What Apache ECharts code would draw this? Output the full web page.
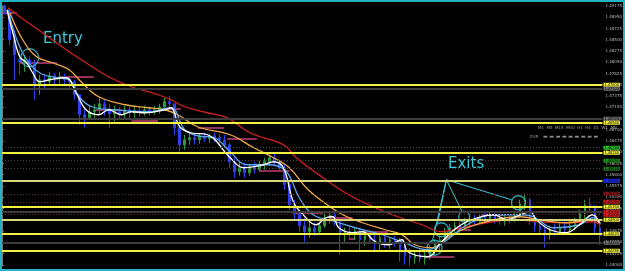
<!DOCTYPE html>
<html><head><meta charset="utf-8">
<script src="https://cdn.jsdelivr.net/npm/echarts@6/dist/echarts.min.js"></script>
<style>html,body{margin:0;padding:0;background:#000;}#c{width:625px;height:271px;}</style>
</head><body><div id="c"></div>
<script>
// ---- price axis ----
const yMin = 1.44, yMax = 1.49175, yStep = 0.00225;

// ---- candles (open, close, low, high) ----
const opens = [1.4918,1.4906,1.4850,1.4810,1.4806,1.4810,1.4802,1.4760,1.4770,1.4766,1.4778,1.4772,1.4776,1.4770,1.4766,1.4740,1.4700,1.4694,1.4706,1.4710,
1.4722,1.4710,1.4702,1.4706,1.4702,1.4710,1.4704,1.4708,1.4706,1.4710,1.4706,1.4710,1.4716,1.4726,1.4722,1.4674,1.4640,1.4650,1.4654,1.4650,
1.4656,1.4652,1.4658,1.4654,1.4650,1.4640,1.4606,1.4586,1.4594,1.4584,1.4594,1.4590,1.4600,1.4606,1.4614,1.4604,1.4594,1.4560,1.4520,1.4502,
1.4478,1.4466,1.4474,1.4466,1.4478,1.4494,1.4500,1.4486,1.4460,1.4466,1.4462,1.4468,1.4450,1.4458,1.4450,1.4442,1.4454,1.4446,1.4450,1.4442,
1.4426,1.4418,1.4414,1.4420,1.4412,1.4418,1.4430,1.4442,1.4450,1.4466,1.4474,1.4478,1.4472,1.4486,1.4490,1.4486,1.4494,1.4490,1.4498,1.4492,
1.4488,1.4494,1.4490,1.4498,1.4522,1.4530,1.4494,1.4478,1.4470,1.4462,1.4470,1.4466,1.4474,1.4470,1.4478,1.4486,1.4502,1.4520,1.4514,1.4474];
const closes = [1.4906,1.4850,1.4820,1.4806,1.4810,1.4802,1.4760,1.4770,1.4766,1.4778,1.4772,1.4776,1.4770,1.4766,1.4740,1.4700,1.4694,1.4706,1.4710,1.4722,
1.4710,1.4702,1.4706,1.4702,1.4710,1.4704,1.4708,1.4706,1.4710,1.4706,1.4710,1.4716,1.4726,1.4722,1.4674,1.4640,1.4650,1.4654,1.4650,1.4656,
1.4652,1.4658,1.4654,1.4650,1.4640,1.4606,1.4586,1.4594,1.4584,1.4594,1.4590,1.4600,1.4606,1.4614,1.4604,1.4594,1.4560,1.4520,1.4502,1.4478,
1.4466,1.4474,1.4466,1.4478,1.4494,1.4500,1.4486,1.4460,1.4466,1.4462,1.4468,1.4450,1.4458,1.4450,1.4442,1.4454,1.4446,1.4450,1.4442,1.4426,
1.4418,1.4414,1.4420,1.4412,1.4418,1.4430,1.4442,1.4450,1.4466,1.4474,1.4478,1.4472,1.4486,1.4490,1.4486,1.4494,1.4490,1.4498,1.4492,1.4488,
1.4494,1.4490,1.4498,1.4522,1.4530,1.4494,1.4478,1.4470,1.4462,1.4470,1.4466,1.4474,1.4470,1.4478,1.4486,1.4502,1.4520,1.4514,1.4474,1.4458];
const lows = [1.4900,1.4840,1.4770,1.4780,1.4786,1.4794,1.4730,1.4740,1.4750,1.4758,1.4760,1.4762,1.4758,1.4754,1.4730,1.4680,1.4674,1.4690,1.4694,1.4700,
1.4698,1.4674,1.4686,1.4690,1.4694,1.4692,1.4694,1.4696,1.4698,1.4698,1.4700,1.4702,1.4710,1.4714,1.4660,1.4626,1.4630,1.4640,1.4640,1.4642,
1.4646,1.4644,1.4646,1.4642,1.4634,1.4594,1.4574,1.4578,1.4574,1.4578,1.4582,1.4586,1.4590,1.4598,1.4598,1.4586,1.4550,1.4510,1.4490,1.4466,
1.4446,1.4454,1.4458,1.4462,1.4474,1.4482,1.4478,1.4420,1.4446,1.4454,1.4450,1.4426,1.4438,1.4442,1.4426,1.4430,1.4434,1.4432,1.4436,1.4406,
1.4400,1.4398,1.4402,1.4404,1.4400,1.4410,1.4420,1.4426,1.4442,1.4454,1.4462,1.4460,1.4470,1.4474,1.4478,1.4482,1.4484,1.4486,1.4482,1.4480,
1.4478,1.4482,1.4486,1.4494,1.4510,1.4480,1.4466,1.4462,1.4434,1.4450,1.4458,1.4462,1.4460,1.4464,1.4470,1.4478,1.4490,1.4506,1.4460,1.4440];
const highs = [1.4920,1.4914,1.4870,1.4830,1.4820,1.4816,1.4810,1.4780,1.4782,1.4786,1.4784,1.4786,1.4782,1.4778,1.4770,1.4740,1.4714,1.4718,1.4722,1.4736,
1.4730,1.4722,1.4718,1.4716,1.4718,1.4716,1.4718,1.4716,1.4718,1.4716,1.4718,1.4722,1.4734,1.4738,1.4722,1.4680,1.4660,1.4666,1.4664,1.4662,
1.4664,1.4662,1.4664,1.4662,1.4660,1.4644,1.4614,1.4606,1.4604,1.4602,1.4606,1.4608,1.4614,1.4620,1.4622,1.4610,1.4600,1.4570,1.4530,1.4510,
1.4494,1.4486,1.4484,1.4486,1.4502,1.4508,1.4504,1.4494,1.4474,1.4476,1.4474,1.4472,1.4466,1.4470,1.4466,1.4462,1.4458,1.4454,1.4458,1.4454,
1.4440,1.4434,1.4430,1.4432,1.4428,1.4440,1.4450,1.4458,1.4474,1.4482,1.4486,1.4486,1.4494,1.4498,1.4500,1.4502,1.4504,1.4506,1.4504,1.4502,
1.4500,1.4502,1.4506,1.4530,1.4542,1.4534,1.4500,1.4490,1.4480,1.4478,1.4482,1.4486,1.4490,1.4488,1.4494,1.4510,1.4530,1.4534,1.4520,1.4490];
const bars = opens.map((_, i) => i);

// ---- moving averages [bar position, price] ----
const maRed = [[1.18,1.4914],[3.55,1.4896],[8.09,1.4864],[12.83,1.4830],[16.78,1.4804],[21.31,1.4776],[25.85,1.4756],[31.18,1.4740],[33.75,1.4730],[36.51,1.4716],[41.05,1.4704],[45,1.4694],[49.54,1.4664],[56.25,1.4640],[58.81,1.4614],[64.14,1.4574],[69.27,1.4540],[74.6,1.4514],[78.55,1.4498],[83.88,1.4480],[87.82,1.4466],[91.77,1.4474],[96.9,1.4484],[102.23,1.4490],[107.56,1.4486],[112.69,1.4484],[118.02,1.4486],[119.6,1.4480]];
const maOrange = [[1.58,1.4904],[4.14,1.4850],[6.91,1.4816],[10.07,1.4804],[13.42,1.4790],[15.99,1.4764],[19.34,1.4736],[24.67,1.4720],[29.21,1.4714],[32.56,1.4710],[35.13,1.4700],[39.08,1.4676],[45.59,1.4660],[50.33,1.4634],[54.27,1.4614],[57.43,1.4594],[60.79,1.4554],[64.14,1.4526],[68.09,1.4500],[72.04,1.4484],[76.57,1.4470],[79.93,1.4460],[82.49,1.4440],[85.85,1.4434],[89.01,1.4454],[92.96,1.4474],[98.28,1.4490],[103.61,1.4496],[107.56,1.4490],[112.69,1.4484],[118.02,1.4490],[119.6,1.4484]];
const maBlue = [[1.18,1.4910],[2.96,1.4850],[4.93,1.4810],[7.5,1.4784],[10.85,1.4774],[13.42,1.4770],[15.39,1.4736],[17.96,1.4716],[22.7,1.4710],[29.21,1.4706],[33.75,1.4714],[36.51,1.4670],[39.08,1.4658],[42.43,1.4654],[45.59,1.4626],[48.94,1.4600],[53.48,1.4600],[56.84,1.4586],[59.4,1.4534],[62.17,1.4500],[66.71,1.4486],[70.65,1.4474],[75.98,1.4460],[79.93,1.4446],[85.06,1.4430],[88.42,1.4446],[92.96,1.4480],[98.28,1.4500],[103.61,1.4500],[106.18,1.4496],[110.13,1.4474],[115.45,1.4480],[118.02,1.4494],[119.6,1.4482]];
const maWhite = [[0.99,1.4910],[2.17,1.4864],[3.55,1.4816],[4.93,1.4804],[6.12,1.4784],[7.5,1.4766],[9.47,1.4770],[12.83,1.4774],[14.8,1.4744],[16.78,1.4710],[19.34,1.4700],[21.31,1.4710],[23.88,1.4700],[25.85,1.4706],[28.62,1.4704],[32.56,1.4710],[33.75,1.4714],[35.52,1.4676],[37.7,1.4664],[41.05,1.4660],[45.59,1.4614],[48.35,1.4594],[52.3,1.4600],[54.27,1.4606],[56.25,1.4594],[58.22,1.4526],[60.19,1.4500],[62.76,1.4480],[64.73,1.4494],[66.11,1.4496],[67.3,1.4474],[70.06,1.4464],[72.04,1.4466],[74.6,1.4446],[77.17,1.4440],[79.93,1.4450],[81.11,1.4426],[85.06,1.4416],[87.82,1.4446],[91.77,1.4480],[95.72,1.4496],[98.28,1.4500],[100.85,1.4490],[103.61,1.4500],[105.59,1.4506],[106.77,1.4490],[109.53,1.4470],[112.69,1.4464],[115.45,1.4480],[118.02,1.4500],[119.4,1.4484]];

// ---- short pivot segments [from, to, price] ----
const pivotSegs = [[0,2.96,1.4904],[3.55,11.05,1.4804],[11.45,18.35,1.4776],[18.75,23.88,1.4710],[25.85,31.18,1.4688],[31.77,35.72,1.4712],[39.08,44.4,1.4674],[45,50.92,1.4652],[51.51,57.43,1.4588],[58.22,64.14,1.4504],[65.32,70.06,1.4494],[69.27,70.65,1.4452],[72.04,77.17,1.4466],[84.47,90.39,1.4416],[90.98,93.75,1.4470],[95.72,100.26,1.4500],[108.74,115.45,1.4462]];

// ---- horizontal levels [price, style, label colour] ----
const levels = [[1.4760,'yellow','#f0f040'],[1.4752,'gray','#707070'],[1.4692,'gray','#707070'],[1.4684,'yellow','#f0f040'],
[1.4634,'dotGray','#30c030'],[1.4624,'yellow','#f0f040'],[1.4608,'dotGray','#209020'],[1.4592,'dotGray','#207020'],
[1.4568,'olive','#2030f0'],[1.4542,'dotRed','#801818'],[1.4526,'dotRed','#c02020'],[1.4516,'yellow','#f0f040'],
[1.4506,'gray','#d02020'],[1.4500,'dotRed','#e02020'],[1.4490,'olive','#f0f040'],[1.4462,'yellow','#f0f040'],
[1.4444,'gray','#707070'],[1.4428,'yellow','#f0f040']];

// ---- hand-drawn annotations ----
const entryCircle = [[5.53,1.4814,18]];
const exitCircles = [[87.82,1.4470,14],[86.44,1.4434,15],[92.36,1.4496,11],[103.2,1.4524,14]];
const exitApex = [88.81,1.4570];
const exitTargets = [[87.03,1.4482],[86.05,1.4448],[91.97,1.4506],[101.84,1.4530]];
const periods = 'M1  M5  M15  M30  H1  H4  D1  W1  MN';

const cyan = '#3cc8d8';
const lvlStyle = {
  yellow:{color:'#f2f040',width:2,type:'solid'},
  olive:{color:'#d8d87a',width:2,type:'solid'},
  gray:{color:'#3c3c3c',width:2,type:'solid'},
  dotGray:{color:'#4a4a4a',width:1,type:[1,2]},
  dotRed:{color:'#6a2626',width:1,type:[1,2]}
};

const chart = echarts.init(document.getElementById('c'));
chart.setOption({
  backgroundColor:'#000',
  animation:false,
  grid:{left:2,right:15,top:6,height:258.75},
  xAxis:[{type:'category',data:bars,show:false},{type:'value',min:0,max:bars.length,show:false}],
  yAxis:{type:'value',position:'right',min:yMin,max:yMax,interval:yStep,scale:true,
    splitLine:{show:false},
    axisLine:{show:true,lineStyle:{color:'#777'}},
    axisTick:{show:true,length:2,lineStyle:{color:'#777'}},
    axisLabel:{color:'#bbb',fontSize:4,margin:3,fontFamily:'DejaVu Sans',formatter:v=>v.toFixed(5)}},
  series:[
    {type:'candlestick',xAxisIndex:0,clip:false,barWidth:2,
     data:bars.map(i=>[opens[i],closes[i],lows[i],highs[i]]),
     itemStyle:{color:'#2f9a3c',color0:'#3040f0',borderColor:'#2f9a3c',borderColor0:'#3040f0',borderWidth:1},
     markLine:{symbol:['none','none'],silent:true,animation:false,precision:5,
       data:levels.map(l=>({yAxis:l[0],lineStyle:lvlStyle[l[1]],
         label:{show:true,position:'end',distance:1,formatter:p=>Number(p.value).toFixed(5),fontSize:4,color:'#000',backgroundColor:l[2],padding:[0,1]}}))}},
    {type:'line',xAxisIndex:1,data:maRed,smooth:0.4,showSymbol:false,clip:false,lineStyle:{color:'#d02020',width:1.3}},
    {type:'line',xAxisIndex:1,data:maOrange,smooth:0.4,showSymbol:false,clip:false,lineStyle:{color:'#f0a848',width:1.3}},
    {type:'line',xAxisIndex:1,data:maBlue,smooth:0.4,showSymbol:false,clip:false,lineStyle:{color:'#5aa8ec',width:1.3}},
    {type:'line',xAxisIndex:1,data:maWhite,smooth:0.4,showSymbol:false,clip:false,lineStyle:{color:'#ffffff',width:1.3}},
    {type:'lines',coordinateSystem:'cartesian2d',xAxisIndex:1,
     data:pivotSegs.map(s=>({coords:[[s[0],s[2]],[s[1],s[2]]]})),
     lineStyle:{color:'#c0407a',width:1.5,opacity:1}},
    {type:'lines',coordinateSystem:'cartesian2d',xAxisIndex:1,
     data:exitTargets.map(t=>({coords:[exitApex,t]})),
     lineStyle:{color:cyan,width:1,opacity:1}},
    {type:'scatter',xAxisIndex:1,data:entryCircle.concat(exitCircles),symbol:'circle',
     symbolSize:v=>v[2],itemStyle:{color:'rgba(0,0,0,0)',borderColor:cyan,borderWidth:1.3}}
  ],
  graphic:[
    {type:'text',left:43,top:32,style:{text:'Entry',fill:cyan,font:'15px "DejaVu Sans"'}},
    {type:'text',left:448,top:157,style:{text:'Exits',fill:cyan,font:'15px "DejaVu Sans"'}},
    {type:'text',left:538,top:126,style:{text:periods,fill:'#9a9a9a',font:'4px "DejaVu Sans"'}},
    {type:'text',left:530,top:135,style:{text:'EUR',fill:'#9a9a9a',font:'4px "DejaVu Sans"'}},
    {type:'text',left:543,top:134,style:{text:'▬ ▬ ▬ ▬ ▬ ▬ ▬ ▬ ▬',fill:'#888',font:'5px "DejaVu Sans"'}},
    {type:'rect',shape:{x:1,y:1,width:623,height:269},style:{fill:null,stroke:'#22b4c4',lineWidth:2}}
  ]
});
</script></body></html>
